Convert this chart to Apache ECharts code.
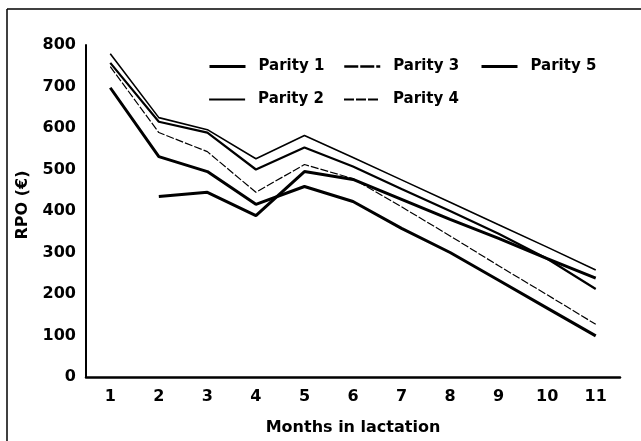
<!DOCTYPE html>
<html>
<head>
<meta charset="utf-8">
<script src="https://cdn.jsdelivr.net/npm/echarts@6/dist/echarts.min.js"></script>
<style>html,body{margin:0;padding:0;background:#fff}#c{width:641px;height:441px}</style>
</head>
<body>
<div id="c"></div>
<script>
var months = ['1','2','3','4','5','6','7','8','9','10','11'];
var parity1 = [697, 531, 495, 416, 459, 423, 358, 300, 233, 166, 99];
var parity2 = [779, 625, 596, 526, 582, 529, 475, 421, 367, 313, 258];
var parity3 = [757, 615, 589, 500, 553, 507, 453, 400, 345, 285, 212];
var parity4 = [748, 589, 543, 445, 512, 478, 410, 340, 268, 198, 127];
var parity5 = [null, 435, 445, 389, 495, 476, 428, 380, 334, 285, 238];
var yTicks = [0, 100, 200, 300, 400, 500, 600, 700, 800];

var FONT = 'DejaVu Sans';
var chart = echarts.init(document.getElementById('c'), null, {renderer: 'canvas'});

function mk(name, data, width, type) {
  return {
    name: name, type: 'line', data: data, symbol: 'none', showSymbol: false,
    connectNulls: false, animation: false, color: '#000',
    itemStyle: {color: '#000', opacity: 0},
    lineStyle: {color: '#000', width: width, type: type}
  };
}
function lg(name, left, top, w, type) {
  return {
    data: [name], left: left, top: top, itemWidth: 36, itemHeight: 10,
    itemStyle: {opacity: 0},
    lineStyle: {color: '#000', width: w, type: type},
    textStyle: {fontFamily: FONT, fontWeight: 'bold', fontSize: 15, color: '#000', padding: [0, 0, 0, 8]},
    selectedMode: false
  };
}
var option = {
  backgroundColor: '#fff',
  animation: false,
  color: ['#000'],
  grid: {left: 86, right: 21, top: 45, bottom: 62, containLabel: false},
  legend: [
    lg('Parity 1', 203, 54, 3, 'solid'), lg('Parity 3', 338, 54, 2.5, [14, 2]), lg('Parity 5', 475, 54, 3, 'solid'),
    lg('Parity 2', 203, 87, 2.2, 'solid'), lg('Parity 4', 338, 87, 2, [10, 2])
  ],
  xAxis: {
    type: 'category', data: months, boundaryGap: true,
    name: 'Months in lactation', nameLocation: 'middle', nameGap: 43,
    nameTextStyle: {fontFamily: FONT, fontWeight: 'bold', fontSize: 16, color: '#000'},
    axisLine: {lineStyle: {color: '#000', width: 2.5}},
    axisTick: {show: false},
    axisLabel: {fontFamily: FONT, fontWeight: 'bold', fontSize: 16, color: '#000', margin: 12}
  },
  yAxis: {
    type: 'value', min: 0, max: 800, interval: 100,
    name: 'RPO (€)', nameLocation: 'middle', nameGap: 55, nameRotate: 90,
    nameTextStyle: {fontFamily: FONT, fontWeight: 'bold', fontSize: 16, color: '#000', padding: [0, 0, 0, 12]},
    axisLine: {show: true, lineStyle: {color: '#000', width: 2}},
    axisTick: {show: false},
    splitLine: {show: false},
    axisLabel: {fontFamily: FONT, fontWeight: 'bold', fontSize: 16, color: '#000', margin: 10,
      formatter: function (v) { return yTicks.indexOf(v) >= 0 ? String(v) : ''; }}
  },
  graphic: [
    {type: 'line', shape: {x1: 7, y1: 9, x2: 641, y2: 9}, style: {stroke: '#000', lineWidth: 1.5}},
    {type: 'line', shape: {x1: 7, y1: 9, x2: 7, y2: 441}, style: {stroke: '#000', lineWidth: 1.5}}
  ],
  series: [
    mk('Parity 1', parity1, 3, 'solid'),
    mk('Parity 2', parity2, 1.6, 'solid'),
    mk('Parity 3', parity3, 2.2, 'solid'),
    mk('Parity 4', parity4, 1.2, [8, 2]),
    mk('Parity 5', parity5, 3, 'solid')
  ]
};
chart.setOption(option);
</script>
</body>
</html>
